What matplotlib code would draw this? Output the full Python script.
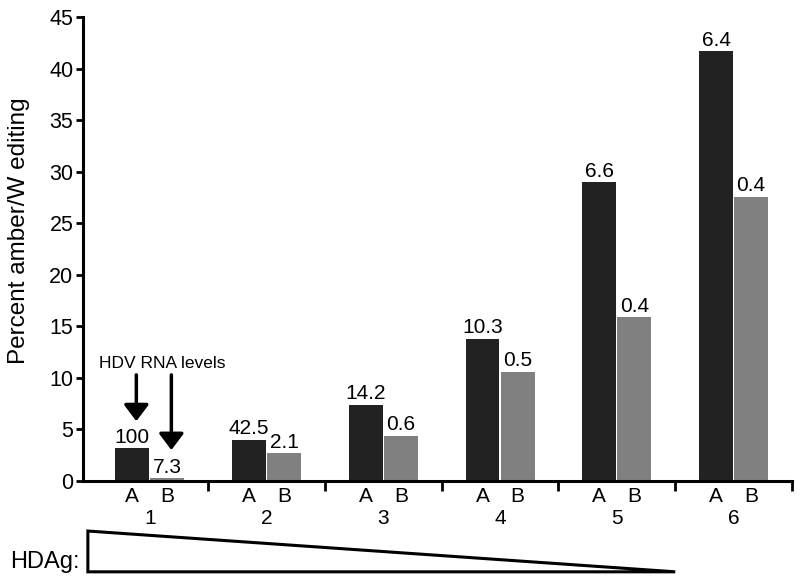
import numpy as np
import matplotlib
matplotlib.use("Agg")
import matplotlib.pyplot as plt
from matplotlib.patches import Polygon

plt.rcParams["font.family"] = ["Liberation Sans", "DejaVu Sans"]

# data
groups = ["1", "2", "3", "4", "5", "6"]
edit_a = [3.2, 4.0, 7.4, 13.8, 29.0, 41.7]
edit_b = [0.25, 2.7, 4.4, 10.6, 15.9, 27.6]
rna_a = ["100", "42.5", "14.2", "10.3", "6.6", "6.4"]
rna_b = ["7.3", "2.1", "0.6", "0.5", "0.4", "0.4"]

x = np.arange(len(groups))
width = 0.29
off = 0.15

fig = plt.figure(figsize=(8, 5.83), dpi=100)
ax = fig.add_axes([0.104, 0.175, 0.886, 0.795])

bars_a = ax.bar(x - off, edit_a, width, color="#222222", zorder=2)
bars_b = ax.bar(x + off, edit_b, width, color="#808080", zorder=2)

for bar, lab in zip(bars_a, rna_a):
    ax.annotate(lab, (bar.get_x() + bar.get_width() / 2, bar.get_height()),
                xytext=(0, 1), textcoords="offset points",
                ha="center", va="bottom", fontsize=15)
for bar, lab in zip(bars_b, rna_b):
    ax.annotate(lab, (bar.get_x() + bar.get_width() / 2, bar.get_height()),
                xytext=(0, 1), textcoords="offset points",
                ha="center", va="bottom", fontsize=15)

ax.set_xlim(-0.57, 5.5)
ax.set_ylim(0, 45)
ax.set_yticks(np.arange(0, 46, 5))
ax.tick_params(axis="y", labelsize=15.5, length=5, width=2, pad=2)

# group separators as major ticks, A/B as minor tick labels
ax.set_xticks(x + 0.5)
ax.set_xticklabels([])
ax.tick_params(axis="x", which="major", length=7, width=2, direction="out")
ax.set_xticks(np.concatenate([x - off, x + off]), minor=True)
ax.set_xticklabels(["A"] * len(x) + ["B"] * len(x), minor=True)
ax.tick_params(axis="x", which="minor", length=0, labelsize=15, pad=4)

for s in ["top", "right"]:
    ax.spines[s].set_visible(False)
ax.spines["left"].set_linewidth(2.2)
ax.spines["bottom"].set_linewidth(2.2)

trans = ax.get_xaxis_transform()
for xi, g in zip(x, groups):
    ax.text(xi, -0.082, g, transform=trans, ha="center", va="center", fontsize=15)

ax.set_ylabel("Percent amber/W editing", fontsize=17.5)
ax.yaxis.set_label_coords(-0.075, 0.54)

# HDV RNA levels note with arrows
arrow = dict(arrowstyle="-|>,head_width=0.75,head_length=1.0", lw=2.5,
             color="black", shrinkA=0, shrinkB=0)
ax.text(0.11, 11.45, "HDV RNA levels", ha="center", va="center", fontsize=12.5)
ax.annotate("", xy=(-0.115, 5.8), xytext=(-0.115, 10.3), arrowprops=arrow)
ax.annotate("", xy=(0.185, 3.0), xytext=(0.185, 10.3), arrowprops=arrow)

# HDAg wedge
tri = Polygon([(-0.53, -0.108), (-0.53, -0.196), (4.5, -0.196)], closed=True,
              fill=False, edgecolor="black", lw=2.2, transform=trans, clip_on=False)
ax.add_patch(tri)
fig.text(0.0125, 0.036, "HDAg:", ha="left", va="center", fontsize=17)

fig.savefig("out.png", dpi=100)
